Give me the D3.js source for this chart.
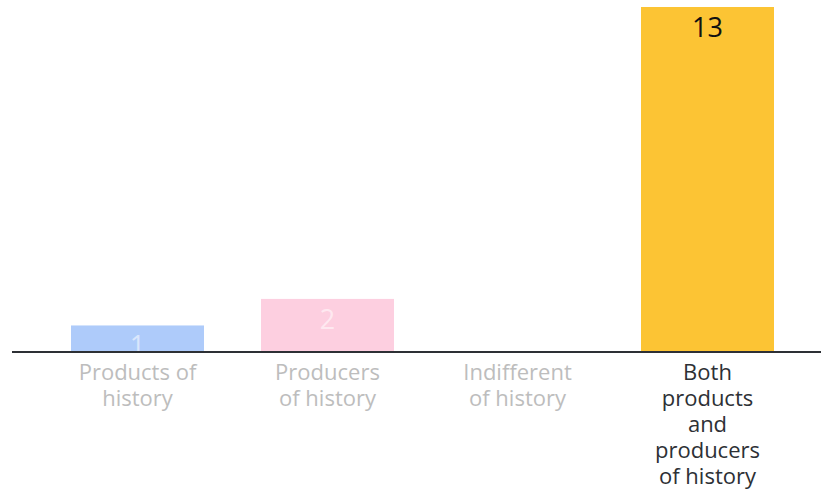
<!DOCTYPE html>
<html>
<head>
<meta charset="utf-8">
<script src="https://cdn.jsdelivr.net/npm/d3@7"></script>
<style>
html,body{margin:0;padding:0;background:#fff;}
svg{display:block;}
</style>
</head>
<body>
<svg id="chart" width="821" height="490"></svg>
<script>
const categories = ["Products of history", "Producers of history", "Indifferent of history", "Both products and producers of history"];
const labelLines = [["Products of", "history"], ["Producers", "of history"], ["Indifferent", "of history"], ["Both", "products", "and", "producers", "of history"]];
const values = [1, 2, 0, 13];
const colors = ["#aecbfa", "#fdcfe0", "#e0e0e0", "#fcc434"];
const labelColors = ["#bdbdbd", "#bdbdbd", "#bdbdbd", "#2d3035"];
const valueColors = ["rgba(255,255,255,0.55)", "rgba(255,255,255,0.55)", "rgba(255,255,255,0.55)", "#111"];

const svg = d3.select("#chart");
const baseY = 352;
const x = d3.scaleBand().domain(categories).range([14, 831]).paddingInner(0.3).paddingOuter(0.3);
const y = d3.scaleLinear().domain([0, 13]).range([baseY, 7]);
const font = "'Open Sans', Lato, sans-serif";
const idx = d => categories.indexOf(d);

svg.selectAll("rect.bar").data(categories).join("rect")
  .attr("class", "bar")
  .attr("x", d => x(d))
  .attr("width", x.bandwidth())
  .attr("y", d => y(values[idx(d)]))
  .attr("height", d => baseY - y(values[idx(d)]))
  .attr("fill", d => colors[idx(d)]);

svg.selectAll("text.val").data(categories.filter(d => values[idx(d)] > 0)).join("text")
  .attr("class", "val")
  .attr("x", d => x(d) + x.bandwidth() / 2)
  .attr("y", d => y(values[idx(d)]) + 30)
  .attr("text-anchor", "middle")
  .attr("font-family", font)
  .attr("font-size", 27)
  .attr("fill", d => valueColors[idx(d)])
  .text(d => values[idx(d)]);

svg.append("line")
  .attr("x1", 12).attr("x2", 821)
  .attr("y1", baseY).attr("y2", baseY)
  .attr("stroke", "#2d3035").attr("stroke-width", 2);

const g = svg.selectAll("text.cat").data(categories).join("text")
  .attr("class", "cat")
  .attr("text-anchor", "middle")
  .attr("font-family", font)
  .attr("font-size", 22)
  .attr("fill", d => labelColors[idx(d)]);
g.each(function(d) {
  const i = idx(d);
  d3.select(this).selectAll("tspan").data(labelLines[i]).join("tspan")
    .attr("x", x(d) + x.bandwidth() / 2)
    .attr("y", (t, j) => 380 + j * 26)
    .text(t => t);
});
</script>
</body>
</html>
